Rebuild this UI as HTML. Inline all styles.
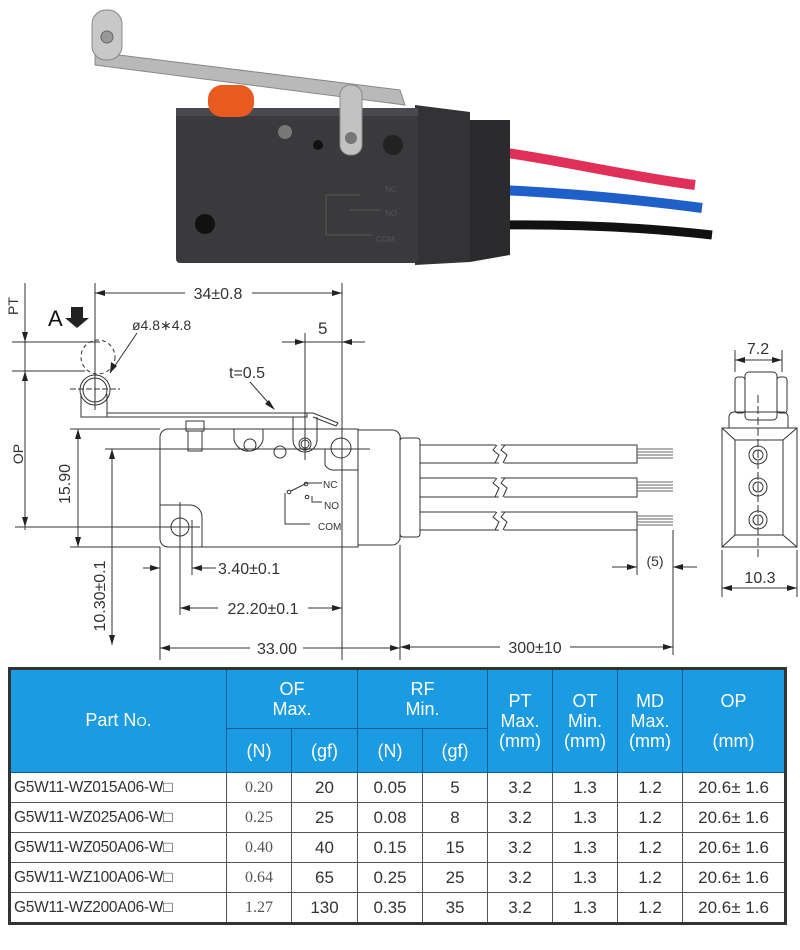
<!DOCTYPE html>
<html><head><meta charset="utf-8">
<style>
html,body{margin:0;padding:0;background:#fff;}
body{width:800px;height:950px;position:relative;overflow:hidden;font-family:"Liberation Sans",sans-serif;}
svg{position:absolute;left:0;top:0;}
table{position:absolute;left:8px;top:667px;width:779px;border-collapse:collapse;border:3px solid #333;font-family:"Liberation Sans",sans-serif;table-layout:fixed;}
td,th{border:1px solid #555;text-align:center;padding:0;font-weight:normal;}
th{background:#1b9be1;color:#fff;font-size:18px;border-color:#0d5f96;line-height:20px;}
td{font-size:17px;color:#333;height:29px;}
td.mono{font-family:"Liberation Serif",serif;color:#555;font-size:16px;}
td.pn{text-align:left;padding-left:3px;font-size:15.5px;letter-spacing:-0.3px;}
</style></head><body>
<svg width="800" height="950" viewBox="0 0 800 950">
<g>
<path d="M500 152 C560 160,620 175,695 185" stroke="#e0305a" stroke-width="10" fill="none"/>
<path d="M500 190 C570 193,640 200,702 208" stroke="#1f5fc9" stroke-width="10" fill="none"/>
<path d="M500 225 C580 224,650 228,712 235" stroke="#111" stroke-width="9" fill="none"/>
<polygon points="470,120 510,120 510,255 470,262" fill="#2b2b2d"/>
<polygon points="415,105 470,112 470,262 415,265" fill="#333336"/>
<rect x="176" y="108" width="242" height="155" rx="4" fill="#3a3a3d"/>
<rect x="176" y="108" width="242" height="8" fill="#4a4a4e"/>
<circle cx="205" cy="224" r="10" fill="#111"/>
<circle cx="285" cy="132" r="7" fill="#777"/>
<circle cx="318" cy="145" r="5" fill="#111"/>
<circle cx="393" cy="145" r="10" fill="#222"/>
<text x="385" y="192" font-size="8" fill="#555">NC</text>
<text x="385" y="216" font-size="8" fill="#555">NO</text>
<text x="376" y="242" font-size="8" fill="#555">COM</text>
<path d="M326 235 V195 H360 M350 210 H380 M326 235 H372" stroke="#555" fill="none"/>
<rect x="208" y="85" width="46" height="32" rx="14" fill="#e85a20"/>
<polygon points="95,52 400,90 405,105 95,65" fill="#b9b9b9" stroke="#888"/>
<rect x="340" y="85" width="22" height="70" rx="10" fill="#c2c2c2" stroke="#888"/>
<circle cx="351" cy="138" r="6" fill="#777"/>
<rect x="92" y="10" width="30" height="50" rx="14" fill="#c8c8c8" stroke="#888"/>
<circle cx="107" cy="37" r="6" fill="#999" stroke="#666"/>
</g>

<g stroke="#333" stroke-width="1" fill="none">
<line x1="95" y1="283" x2="95" y2="410"/>
<line x1="342" y1="283" x2="342" y2="660"/>
<line x1="25" y1="283" x2="25" y2="530"/>
<line x1="12" y1="342" x2="100" y2="342"/>
<line x1="12" y1="371" x2="85" y2="371"/>
<line x1="15" y1="527" x2="200" y2="527"/>
<line x1="70" y1="429" x2="160" y2="429"/>
<line x1="70" y1="547" x2="160" y2="547"/>
<line x1="105" y1="449" x2="370" y2="449"/>
<line x1="112" y1="449" x2="112" y2="645"/>
<line x1="78" y1="429" x2="78" y2="547"/>
<line x1="95" y1="293" x2="185" y2="293"/><line x1="252" y1="293" x2="342" y2="293"/>
<line x1="282" y1="342" x2="365" y2="342"/>
<line x1="305" y1="333" x2="305" y2="460"/>
<circle cx="98" cy="357" r="17" stroke-dasharray="4,3"/>
<circle cx="95" cy="390" r="15"/><circle cx="95" cy="390" r="12"/>
<line x1="70" y1="389" x2="120" y2="389" stroke-dasharray="6,2"/>
<path d="M81 394 V417 H107 V394"/>
<rect x="107" y="413" width="200" height="4"/>
<path d="M293 413 H313 L338 423 L336 426 L313 417 M293 417 V440 A12 12 0 0 0 317 440 V417"/>
<circle cx="305" cy="444" r="6"/><circle cx="305" cy="444" r="4"/>
<line x1="137" y1="333" x2="110" y2="373"/>
<line x1="250" y1="382" x2="273" y2="408"/>
<path d="M168 429 H358 V547 H168 A8 8 0 0 1 160 539 V437 A8 8 0 0 1 168 429 Z"/>
<path d="M358 430 H392 A8 8 0 0 1 400 440 V536 A8 8 0 0 1 392 545 H358"/>
<line x1="400" y1="437" x2="400" y2="540"/>
<rect x="186" y="421" width="18" height="10"/><rect x="188" y="431" width="14" height="20"/>
<path d="M234 429 V440 A15 15 0 0 0 263 440 V429"/>
<circle cx="250" cy="445" r="6"/>
<circle cx="280" cy="452" r="6"/>
<circle cx="341" cy="448" r="10"/>
<path d="M325 449 V465 A10 10 0 0 0 335 470 H358"/>
<path d="M160 505 H190 A12 12 0 0 1 202 517 V547"/>
<circle cx="180" cy="527" r="9"/>
<line x1="180" y1="502" x2="180" y2="575"/>
<line x1="160" y1="547" x2="160" y2="660"/>
<line x1="192" y1="520" x2="192" y2="575"/>
<line x1="180" y1="575" x2="180" y2="615"/>
<path d="M322 483 H307 L291 491 M312 496 V502 H322 M285 493 V524 H310"/>
<circle cx="289" cy="492" r="1.8"/><circle cx="306" cy="484" r="1.8"/><circle cx="307" cy="497" r="1.8"/>
<line x1="143" y1="568" x2="160" y2="568"/><line x1="192" y1="568" x2="216" y2="568"/>
<line x1="180" y1="608" x2="218" y2="608"/><line x1="308" y1="608" x2="342" y2="608"/>
<line x1="160" y1="648" x2="250" y2="648"/><line x1="303" y1="648" x2="400" y2="648"/>
<line x1="400" y1="545" x2="400" y2="660"/>
<line x1="400" y1="647" x2="500" y2="647"/><line x1="570" y1="647" x2="673" y2="647"/>
<line x1="25" y1="371" x2="25" y2="527"/>
<rect x="400" y="438" width="20" height="99" rx="3"/>
<path d="M420 445 H637 V463 H420"/><path d="M420 478 H637 V497 H420"/><path d="M420 512 H637 V530 H420"/>
<g stroke="#fff" stroke-width="5"><line x1="498" y1="442" x2="502" y2="466"/><line x1="498" y1="475" x2="502" y2="500"/><line x1="498" y1="509" x2="502" y2="533"/></g>
<path d="M497 445 l-4 5 l6 5 l-4 8 M505 445 l-4 5 l6 5 l-4 8"/>
<path d="M497 478 l-4 5 l6 5 l-4 9 M505 478 l-4 5 l6 5 l-4 9"/>
<path d="M497 512 l-4 5 l6 5 l-4 8 M505 512 l-4 5 l6 5 l-4 8"/>
<g stroke="#666">
<path d="M637 449 H673 M637 452 H673 M637 455 H673 M637 458 H673"/>
<path d="M637 482 H673 M637 485 H673 M637 488 H673 M637 491 H673"/>
<path d="M637 516 H673 M637 519 H673 M637 522 H673 M637 525 H673"/>
</g>
<line x1="637" y1="530" x2="637" y2="575"/><line x1="673" y1="530" x2="673" y2="655"/>
<line x1="612" y1="567" x2="637" y2="567"/><line x1="673" y1="567" x2="697" y2="567"/>
<rect x="722" y="428" width="75" height="119"/>
<rect x="735" y="440" width="48" height="95"/>
<path d="M722 428 L735 440 M797 428 L783 440 M722 547 L735 535 M797 547 L783 535"/>
<circle cx="758" cy="455" r="9"/><circle cx="758" cy="455" r="5"/>
<circle cx="758" cy="487" r="9"/><circle cx="758" cy="487" r="5"/>
<circle cx="758" cy="520" r="9"/><circle cx="758" cy="520" r="5"/>
<rect x="745" y="372" width="32" height="48" rx="4"/>
<rect x="735" y="377" width="10" height="36" rx="3"/><rect x="777" y="377" width="10" height="36" rx="3"/>
<path d="M729 428 V417 A5 5 0 0 1 734 412 H783 A5 5 0 0 1 788 417 V428"/>
<line x1="758" y1="395" x2="758" y2="560" stroke-dasharray="8,3"/>
<line x1="735" y1="350" x2="735" y2="372"/><line x1="782" y1="350" x2="782" y2="372"/>
<line x1="735" y1="360" x2="782" y2="360"/>
<line x1="722" y1="550" x2="722" y2="597"/><line x1="797" y1="550" x2="797" y2="597"/>
<line x1="722" y1="588" x2="797" y2="588"/>
</g>
<g fill="#222">
<polygon points="95,293 105,290 105,296"/><polygon points="342,293 332,290 332,296"/>
<polygon points="305,342 295,339 295,345"/><polygon points="342,342 352,339 352,345"/>
<polygon points="25,342 22,332 28,332"/><polygon points="25,371 22,381 28,381"/><polygon points="25,527 22,517 28,517"/>
<polygon points="78,429 75,439 81,439"/><polygon points="78,547 75,537 81,537"/>
<polygon points="112,449 109,459 115,459"/><polygon points="112,645 109,635 115,635"/>
<polygon points="160,568 150,565 150,571"/><polygon points="192,568 202,565 202,571"/>
<polygon points="180,608 190,605 190,611"/><polygon points="342,608 332,605 332,611"/>
<polygon points="160,648 170,645 170,651"/><polygon points="400,648 390,645 390,651"/>
<polygon points="400,647 410,644 410,650"/><polygon points="673,647 663,644 663,650"/>
<polygon points="637,567 627,564 627,570"/><polygon points="673,567 683,564 683,570"/>
<polygon points="735,360 745,357 745,363"/><polygon points="782,360 772,357 772,363"/>
<polygon points="722,588 732,585 732,591"/><polygon points="797,588 787,585 787,591"/>
<polygon points="110,373 111,362 117,366"/><polygon points="275,410 265,404 269,400"/>
<polygon points="71,307 83,307 83,318 89,318 77,328 65,318 71,318"/>
</g>
<g font-family="Liberation Sans, sans-serif" fill="#333" font-size="16">
<text x="218" y="299" text-anchor="middle">34±0.8</text>
<text x="48" y="326" font-size="22" fill="#111">A</text>
<text x="132" y="330" font-size="14">ø4.8∗4.8</text>
<text x="318" y="334" font-size="17">5</text>
<text x="229" y="378">t=0.5</text>
<text x="12" y="300" font-size="14" transform="rotate(-90 18 300)" text-anchor="middle">PT</text>
<text x="14" y="455" font-size="14" transform="rotate(-90 18 450)" text-anchor="middle">OP</text>
<text x="70" y="492" transform="rotate(-90 66 488)" text-anchor="middle">15.90</text>
<text x="104" y="605" transform="rotate(-90 100 600)" text-anchor="middle">10.30±0.1</text>
<text x="218" y="574">3.40±0.1</text>
<text x="263" y="614" text-anchor="middle">22.20±0.1</text>
<text x="277" y="654" text-anchor="middle">33.00</text>
<text x="535" y="653" text-anchor="middle">300±10</text>
<text x="655" y="566" text-anchor="middle" font-size="14">(5)</text>
<text x="758" y="354" text-anchor="middle">7.2</text>
<text x="760" y="583" text-anchor="middle">10.3</text>
<text x="323" y="488" font-size="10">NC</text>
<text x="324" y="509" font-size="10">NO</text>
<text x="318" y="530" font-size="10">COM</text>
</g>
</svg>

<table>
<colgroup><col style="width:217px"><col style="width:65px"><col style="width:66px"><col style="width:65px"><col style="width:65px"><col style="width:65px"><col style="width:65px"><col style="width:65px"><col></colgroup>
<tr style="height:60px"><th rowspan="2">Part N<span style="font-size:13px">O</span>.</th><th colspan="2">OF<br>Max.</th><th colspan="2">RF<br>Min.</th><th rowspan="2">PT<br>Max.<br>(mm)</th><th rowspan="2">OT<br>Min.<br>(mm)</th><th rowspan="2">MD<br>Max.<br>(mm)</th><th rowspan="2">OP<br><br>(mm)</th></tr>
<tr style="height:44px"><th>(N)</th><th>(gf)</th><th>(N)</th><th>(gf)</th></tr>
<tr><td class="pn">G5W11-WZ015A06-W□</td><td class="mono">0.20</td><td>20</td><td>0.05</td><td>5</td><td>3.2</td><td>1.3</td><td>1.2</td><td>20.6± 1.6</td></tr>
<tr><td class="pn">G5W11-WZ025A06-W□</td><td class="mono">0.25</td><td>25</td><td>0.08</td><td>8</td><td>3.2</td><td>1.3</td><td>1.2</td><td>20.6± 1.6</td></tr>
<tr><td class="pn">G5W11-WZ050A06-W□</td><td class="mono">0.40</td><td>40</td><td>0.15</td><td>15</td><td>3.2</td><td>1.3</td><td>1.2</td><td>20.6± 1.6</td></tr>
<tr><td class="pn">G5W11-WZ100A06-W□</td><td class="mono">0.64</td><td>65</td><td>0.25</td><td>25</td><td>3.2</td><td>1.3</td><td>1.2</td><td>20.6± 1.6</td></tr>
<tr><td class="pn">G5W11-WZ200A06-W□</td><td class="mono">1.27</td><td>130</td><td>0.35</td><td>35</td><td>3.2</td><td>1.3</td><td>1.2</td><td>20.6± 1.6</td></tr>
</table>
</body></html>
